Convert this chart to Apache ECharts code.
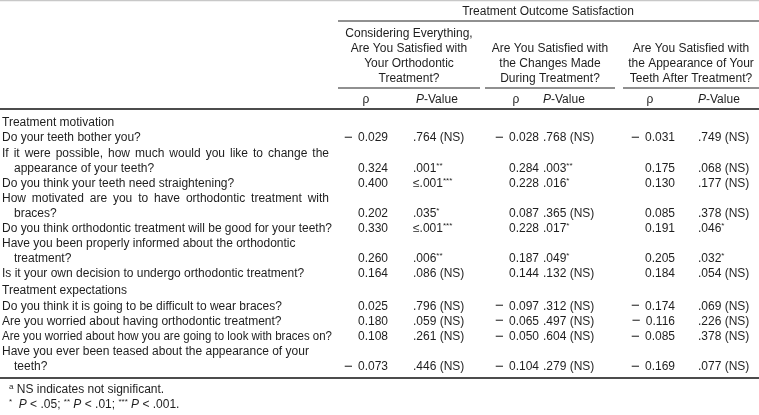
<!DOCTYPE html>
<html><head><meta charset="utf-8">
<script src="https://cdn.jsdelivr.net/npm/echarts@6/dist/echarts.min.js"></script>
<style>html,body{margin:0;padding:0;background:#fff}#c{width:759px;height:415px}</style>
</head><body><div id="c"></div><script>
// ---------- DATA ----------
const spannerTitle = 'Treatment Outcome Satisfaction';
const groupTitles = [
  ['Considering Everything,', 'Are You Satisfied with', 'Your Orthodontic', 'Treatment?'],
  ['Are You Satisfied with', 'the Changes Made', 'During Treatment?'],
  ['Are You Satisfied with', 'the Appearance of Your', 'Teeth After Treatment?']
];
const colHeads = ['ρ', 'P-Value'];
const sectionNames = ['Treatment motivation', 'Treatment expectations'];
const sectionOf = [0, 0, 0, 0, 0, 0, 0, 1, 1, 1, 1];
const questions = [
  ['Do your teeth bother you?'],
  ['If it were possible, how much would you like to change the', 'appearance of your teeth?'],
  ['Do you think your teeth need straightening?'],
  ['How motivated are you to have orthodontic treatment with', 'braces?'],
  ['Do you think orthodontic treatment will be good for your teeth?'],
  ['Have you been properly informed about the orthodontic', 'treatment?'],
  ['Is it your own decision to undergo orthodontic treatment?'],
  ['Do you think it is going to be difficult to wear braces?'],
  ['Are you worried about having orthodontic treatment?'],
  ['Are you worried about how you are going to look with braces on?'],
  ['Have you ever been teased about the appearance of your', 'teeth?']
];
const rho1 = [-0.029, 0.324, 0.400, 0.202, 0.330, 0.260, 0.164, 0.025, 0.180, 0.108, -0.073];
const pval1 = ['.764 (NS)', '.001**', '≤.001***', '.035*', '≤.001***', '.006**', '.086 (NS)', '.796 (NS)', '.059 (NS)', '.261 (NS)', '.446 (NS)'];
const rho2 = [-0.028, 0.284, 0.228, 0.087, 0.228, 0.187, 0.144, -0.097, -0.065, -0.050, -0.104];
const pval2 = ['.768 (NS)', '.003**', '.016*', '.365 (NS)', '.017*', '.049*', '.132 (NS)', '.312 (NS)', '.497 (NS)', '.604 (NS)', '.279 (NS)'];
const rho3 = [-0.031, 0.175, 0.130, 0.085, 0.191, 0.205, 0.184, -0.174, -0.116, -0.085, -0.169];
const pval3 = ['.749 (NS)', '.068 (NS)', '.177 (NS)', '.378 (NS)', '.046*', '.032*', '.054 (NS)', '.069 (NS)', '.226 (NS)', '.378 (NS)', '.077 (NS)'];
const footnotes = [
  '{s|a} {n|NS indicates not significant.}',
  '{s|*}  {i|P} {n|< .05;} {s|**} {i|P} {n|< .01;} {s|***} {i|P} {n|< .001.}'
];

// ---------- LAYOUT / STYLE ----------
const FONT = '"Liberation Sans", Arial, Helvetica, sans-serif';
const FS = 12;
const INK = '#1e1e1e';
const L = {
  labelX: 2, indentX: 14, labelMaxW: 332,
  justifyTo: [null, 329, null, 329, null, null, null, null, null, null, null],
  rhoRight: [388, 539, 675], pLeft: [413, 543, 698],
  rhoHeadX: [366, 516, 650], pHeadX: [416, 543, 698],
  minusW: 14,
  groupCenter: [409, 550, 691],
  groupLine: [[338, 480], [485, 615], [623, 759]],
  spanLine: [338, 759], spanX: 548, spanY: 12, spanLineY: 21,
  groupBottomY: 79, groupLH: 15, groupLineY: 88, colHeadY: 100,
  ruleY: 109, bodyY: 123, rowH: 15.1, sectionGap: 2,
  bottomRuleY: 378, footY: [390, 405], footX: 9
};

const baseRich = {
  n: { fontFamily: FONT, fontSize: FS, fill: INK, lineHeight: 14 },
  i: { fontFamily: FONT, fontSize: FS, fill: INK, fontStyle: 'italic', lineHeight: 14 },
  s: { fontFamily: FONT, fontSize: 8, fill: INK, verticalAlign: 'top', lineHeight: 14 },
  m: { fontFamily: FONT, fontSize: 15, fill: INK, lineHeight: 14, width: L.minusW, align: 'left' }
};
function esc(t) { return t.replace(/[{}|]/g, ''); }
function pText(p) {
  const m = p.match(/^(.*?)(\*+)$/);
  return m ? '{n|' + m[1] + '}{s|' + m[2] + '}' : '{n|' + p + '}';
}
function rhoText(v) { return (v < 0 ? '{m|\u2212}' : '') + '{n|' + Math.abs(v).toFixed(3) + '}'; }

const mctx = document.createElement('canvas').getContext('2d');
mctx.font = FS + 'px ' + FONT;

// build cells
const cells = [];
function addCell(x, y, text, align, opts) {
  cells.push(Object.assign({ x: x, y: y, text: text, align: align }, opts || {}));
}
addCell(L.spanX, L.spanY, '{n|' + spannerTitle + '}', 'center');
groupTitles.forEach(function (lines, g) {
  lines.forEach(function (t, k) {
    const y = L.groupBottomY - (lines.length - 1 - k) * L.groupLH;
    addCell(L.groupCenter[g], y, '{n|' + t + '}', 'center');
  });
  addCell(L.rhoHeadX[g], L.colHeadY, '{n|' + colHeads[0] + '}', 'center');
  addCell(L.pHeadX[g], L.colHeadY, '{i|P}{n|' + colHeads[1].slice(1) + '}', 'left');
});
const rhos = [rho1, rho2, rho3], pvals = [pval1, pval2, pval3];
let line = 0, sec = -1;
function lineY(k, s) { return L.bodyY + k * L.rowH + s * L.sectionGap; }
questions.forEach(function (q, i) {
  if (sectionOf[i] !== sec) {
    sec = sectionOf[i];
    addCell(L.labelX, lineY(line, sec), '{n|' + sectionNames[sec] + '}', 'left');
    line++;
  }
  q.forEach(function (t, k) {
    const x = k === 0 ? L.labelX : L.indentX;
    const w = mctx.measureText(t).width;
    const y = lineY(line + k, sec);
    const target = (k === 0 && q.length > 1) ? L.justifyTo[i] : null;
    if (target) {
      const words = t.split(' ');
      const spaceW = mctx.measureText(' ').width;
      const gap = spaceW + (target - x - w) / (words.length - 1);
      const r = Object.assign({}, baseRich, { g: { fontFamily: FONT, fontSize: FS, width: gap, lineHeight: 14 } });
      addCell(x, y, words.map(function (wd) { return '{n|' + esc(wd) + '}'; }).join('{g| }'), 'left', { rich: r });
    } else {
      const sx = (x + w > L.labelMaxW) ? (L.labelMaxW - x) / w : null;
      addCell(x, y, '{n|' + esc(t) + '}', 'left', { sx: sx });
    }
  });
  const vy = lineY(line + q.length - 1, sec);
  for (let g = 0; g < 3; g++) {
    addCell(L.rhoRight[g], vy, rhoText(rhos[g][i]), 'right');
    addCell(L.pLeft[g], vy, pText(pvals[g][i]), 'left');
  }
  line += q.length;
});
footnotes.forEach(function (f, k) { addCell(L.footX, L.footY[k], f, 'left'); });

// rules [x1, y, x2, width, color]
const rules = [
  [0, 0.5, 759, 1.4, '#c8c8c8'],
  [L.spanLine[0], L.spanLineY, L.spanLine[1], 1.1, '#222'],
  [L.groupLine[0][0], L.groupLineY, L.groupLine[0][1], 1.1, '#222'],
  [L.groupLine[1][0], L.groupLineY, L.groupLine[1][1], 1.1, '#222'],
  [L.groupLine[2][0], L.groupLineY, L.groupLine[2][1], 1.1, '#222'],
  [0, L.ruleY, 759, 1.6, '#111'],
  [0, L.bottomRuleY, 759, 1.6, '#111']
];

const chart = echarts.init(document.getElementById('c'), null, { renderer: 'canvas' });
chart.setOption({
  animation: false,
  backgroundColor: '#fff',
  grid: { left: 0, right: 0, top: 0, bottom: 0 },
  xAxis: { type: 'value', min: 0, max: 759, show: false },
  yAxis: { type: 'value', min: 0, max: 415, inverse: true, show: false },
  series: [
    {
      type: 'custom', coordinateSystem: 'cartesian2d', silent: true,
      data: rules.map(function (r) { return [r[0], r[1], r[2]]; }),
      renderItem: function (params, api) {
        const r = rules[params.dataIndex];
        const a = api.coord([api.value(0), api.value(1)]);
        const b = api.coord([api.value(2), api.value(1)]);
        return { type: 'line', shape: { x1: a[0], y1: a[1], x2: b[0], y2: b[1] },
          style: { stroke: r[4], lineWidth: r[3] } };
      }
    },
    {
      type: 'custom', coordinateSystem: 'cartesian2d', silent: true,
      data: cells.map(function (c) { return [c.x, c.y]; }),
      renderItem: function (params, api) {
        const c = cells[params.dataIndex];
        const p = api.coord([api.value(0), api.value(1)]);
        const el = { type: 'text', x: p[0], y: p[1],
          style: { text: c.text, rich: c.rich || baseRich, fontFamily: FONT, fontSize: FS, fill: INK,
            align: c.align, verticalAlign: 'middle' } };
        if (c.sx) { el.scaleX = c.sx; }
        return el;
      }
    }
  ]
});
</script></body></html>
